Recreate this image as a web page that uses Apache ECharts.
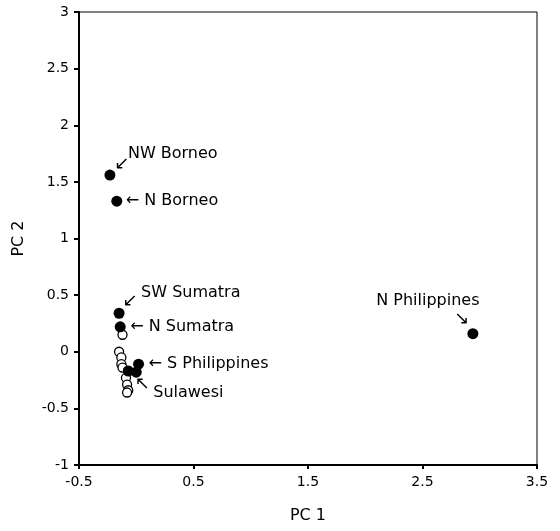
<!DOCTYPE html>
<html>
<head>
<meta charset="utf-8">
<script src="https://cdn.jsdelivr.net/npm/echarts@6/dist/echarts.min.js"></script>
<style>
  html, body { margin: 0; padding: 0; background: #fff; }
  #chart1 { width: 560px; height: 531px; }
</style>
</head>
<body>
<div id="chart1"></div>
<script>
// filled points (labelled regions)
var filledPC1 = [-0.23, -0.17, -0.15, -0.14, 0.02, -0.07, 0.00, 2.94];
var filledPC2 = [1.56, 1.33, 0.34, 0.22, -0.11, -0.17, -0.18, 0.16];
var filledNames = ['NW Borneo', 'N Borneo', 'SW Sumatra', 'N Sumatra', 'S Philippines', '', '', 'N Philippines'];

// open points (Sulawesi etc.)
var openPC1 = [-0.12, -0.15, -0.13, -0.13, -0.12, -0.09, -0.08, -0.07, -0.08];
var openPC2 = [0.15, 0.00, -0.05, -0.11, -0.14, -0.23, -0.29, -0.34, -0.36];
var openNames = ['', '', '', '', '', '', '', 'Sulawesi', ''];

// x tick labels
var xTicks = ['-0.5', '0.5', '1.5', '2.5', '3.5'];

var FONT = 'DejaVu Sans';

// where the annotation text / arrow sits relative to its point (pixels)
var annot = {
    'NW Borneo':     { text: 'NW Borneo', off: [18, -21], arrow: '↙', arrowOff: [12, -11] },
    'N Borneo':      { text: '← N Borneo', off: [9, 0] },
    'SW Sumatra':    { text: 'SW Sumatra', off: [22, -20], arrow: '↙', arrowOff: [11, -12] },
    'N Sumatra':     { text: '← N Sumatra', off: [10, 0] },
    'S Philippines': { text: '← S Philippines', off: [10, 0] },
    'Sulawesi':      { text: 'Sulawesi', off: [25, 3], arrow: '↖', arrowOff: [14, -6] },
    'N Philippines': { text: 'N Philippines', off: [-45, -33], align: 'center', arrow: '↘', arrowOff: [-11, -14] }
};

function pts(xs, ys) {
    return xs.map(function (x, i) { return [x, ys[i]]; });
}

var textData = [], arrowData = [];
function collect(xs, ys, names) {
    names.forEach(function (n, i) {
        if (!n) return;
        var a = annot[n];
        textData.push({
            value: [xs[i], ys[i]],
            label: { formatter: a.text, offset: a.off, align: a.align || 'left', color: '#000' }
        });
        if (a.arrow) {
            arrowData.push({
                value: [xs[i], ys[i]],
                label: { formatter: a.arrow, offset: a.arrowOff, color: '#000' }
            });
        }
    });
}
collect(filledPC1, filledPC2, filledNames);
collect(openPC1, openPC2, openNames);

var myChart1 = echarts.init(document.getElementById('chart1'));
myChart1.setOption({
    animation: false,
    textStyle: { fontFamily: FONT, color: '#000' },
    grid: {
        left: 79, right: 23, top: 12, bottom: 66,
        show: true, borderColor: '#000', borderWidth: 1
    },
    xAxis: [
        {
            type: 'value', min: -0.5, max: 3.5,
            axisLine: { onZero: false, lineStyle: { color: '#000', width: 2 } },
            axisTick: { show: false },
            axisLabel: { show: false },
            splitLine: { show: false }
        },
        {
            // label/tick axis, shifted by half a unit
            type: 'value', min: 0, max: 4, interval: 1, position: 'bottom',
            axisLine: { show: false, onZero: false },
            axisTick: { show: true, length: 4, lineStyle: { color: '#000', width: 2 } },
            axisLabel: {
                color: '#000', fontSize: 14, fontFamily: FONT, margin: 10,
                formatter: function (v) { return xTicks[Math.round(v)]; }
            },
            splitLine: { show: false },
            name: 'PC 1', nameLocation: 'middle', nameGap: 43,
            nameTextStyle: { color: '#000', fontSize: 16, fontFamily: FONT }
        }
    ],
    yAxis: {
        type: 'value', min: -1, max: 3, interval: 0.5,
        axisLine: { show: true, onZero: false, lineStyle: { color: '#000', width: 2 } },
        axisTick: { show: true, length: 5, lineStyle: { color: '#000', width: 2 } },
        axisLabel: { color: '#000', fontSize: 14, fontFamily: FONT, margin: 10 },
        splitLine: { show: false },
        name: 'PC 2', nameLocation: 'middle', nameGap: 52,
        nameTextStyle: { color: '#000', fontSize: 16, fontFamily: FONT }
    },
    series: [
        {
            type: 'scatter', name: 'open', xAxisIndex: 0,
            data: pts(openPC1, openPC2),
            symbol: 'circle', symbolSize: 9,
            itemStyle: { color: '#fff', borderColor: '#000', borderWidth: 1.3, opacity: 1 },
            z: 3
        },
        {
            type: 'scatter', name: 'filled', xAxisIndex: 0,
            data: pts(filledPC1, filledPC2),
            symbol: 'circle', symbolSize: 11,
            itemStyle: { color: '#000', opacity: 1 },
            z: 4
        },
        {
            type: 'scatter', name: 'labels', xAxisIndex: 0,
            data: textData, symbolSize: 1, silent: true,
            itemStyle: { color: '#000', opacity: 0 },
            label: {
                show: true, position: 'inside', verticalAlign: 'middle',
                color: '#000', opacity: 1, fontSize: 16, fontFamily: FONT
            },
            z: 5
        },
        {
            type: 'scatter', name: 'arrows', xAxisIndex: 0,
            data: arrowData, symbolSize: 1, silent: true,
            itemStyle: { color: '#000', opacity: 0 },
            label: {
                show: true, position: 'inside', align: 'center', verticalAlign: 'middle',
                color: '#000', opacity: 1, fontSize: 18, fontFamily: FONT
            },
            z: 5
        }
    ]
});

window.onresize = function () {
    myChart1.resize();
};
</script>
</body>
</html>
